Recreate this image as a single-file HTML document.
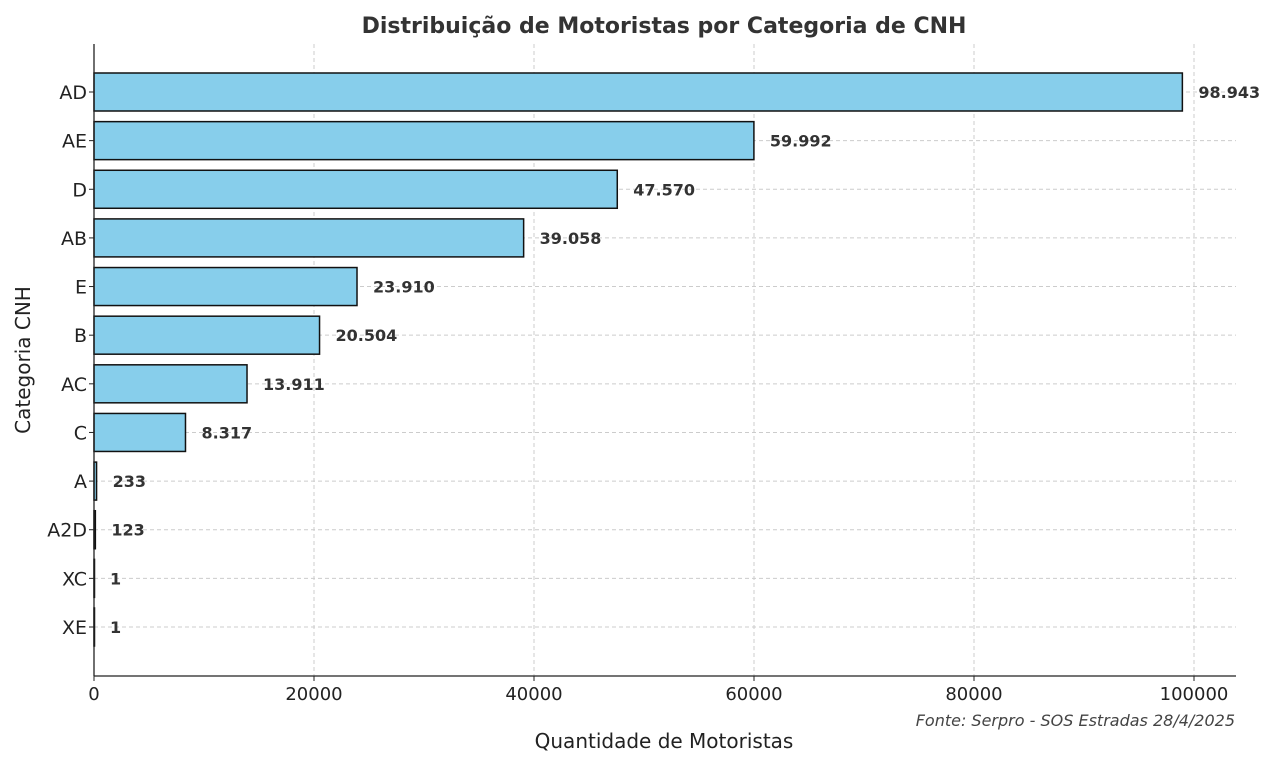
<!DOCTYPE html>
<html><head><meta charset="utf-8"><style>
body{margin:0;background:#fff;}
svg text{font-family:"DejaVu Sans","Liberation Sans",sans-serif;}
</style></head><body>
<svg id="chart" width="1280" height="765" viewBox="0 0 1280 765" xmlns="http://www.w3.org/2000/svg">
<rect width="1280" height="765" fill="#fff"/>
<text x="664" y="33" text-anchor="middle" font-size="22" font-weight="bold" fill="#333">Distribuição de Motoristas por Categoria de CNH</text>
<g id="grid"></g><g id="bars"></g><g id="labels"></g><g id="ticks"></g>
<line x1="94" y1="44" x2="94" y2="676" stroke="#222" stroke-width="1.3"/>
<line x1="94" y1="676" x2="1236" y2="676" stroke="#222" stroke-width="1.3"/>
<text x="664" y="748" text-anchor="middle" font-size="20" fill="#222">Quantidade de Motoristas</text>
<text transform="translate(30,360) rotate(-90)" text-anchor="middle" font-size="20" fill="#222">Categoria CNH</text>
<text x="1235" y="726" text-anchor="end" font-size="16" font-style="italic" fill="#444">Fonte: Serpro - SOS Estradas  28/4/2025</text>
</svg>
<script>
const categories=["AD","AE","D","AB","E","B","AC","C","A","A2D","XC","XE"];
const values=[98943,59992,47570,39058,23910,20504,13911,8317,233,123,1,1];
const valueLabels=["98.943","59.992","47.570","39.058","23.910","20.504","13.911","8.317","233","123","1","1"];
const xTicks=[0,20000,40000,60000,80000,100000];
const NS="http://www.w3.org/2000/svg";
const x=v=>94+v*0.011;
const y=i=>92+i*(627-92)/11;
function mk(tag,attrs,parent){const e=document.createElementNS(NS,tag);for(const k in attrs)e.setAttribute(k,attrs[k]);document.getElementById(parent).appendChild(e);return e;}
xTicks.forEach(t=>{
 const g=mk("line",{x1:x(t),x2:x(t),y1:44,y2:676,stroke:"#ccc","stroke-dasharray":"4,3","stroke-width":1},"grid");
 
 
 const tk=mk("line",{x1:x(t),x2:x(t),y1:676,y2:681,stroke:"#222"},"ticks");
 
 
 const tl=mk("text",{x:x(t),y:700,"text-anchor":"middle","font-size":18,fill:"#222"},"ticks");
 tl.textContent=t;
 
 
});
categories.forEach((c,i)=>{
 const yy=y(i);
 const g=mk("line",{x1:94,x2:1236,y1:yy,y2:yy,stroke:"#ccc","stroke-dasharray":"4,3","stroke-width":1},"grid");
 
 
 const b=mk("rect",{x:94,y:yy-19,width:Math.max(x(values[i])-94,0.5),height:38,fill:"#87ceeb",stroke:"#111","stroke-width":1.5},"bars");
 
 
 const l=mk("text",{x:x(values[i])+16,y:yy+6,"font-size":16,"font-weight":"bold",fill:"#333"},"labels");
 l.textContent=valueLabels[i];
 
 
 const tk=mk("line",{x1:89,x2:94,y1:yy,y2:yy,stroke:"#222"},"ticks");
 
 
 const tl=mk("text",{x:87,y:yy+7,"text-anchor":"end","font-size":19,fill:"#222"},"ticks");
 tl.textContent=c;
 
 
});
</script>
</body></html>
